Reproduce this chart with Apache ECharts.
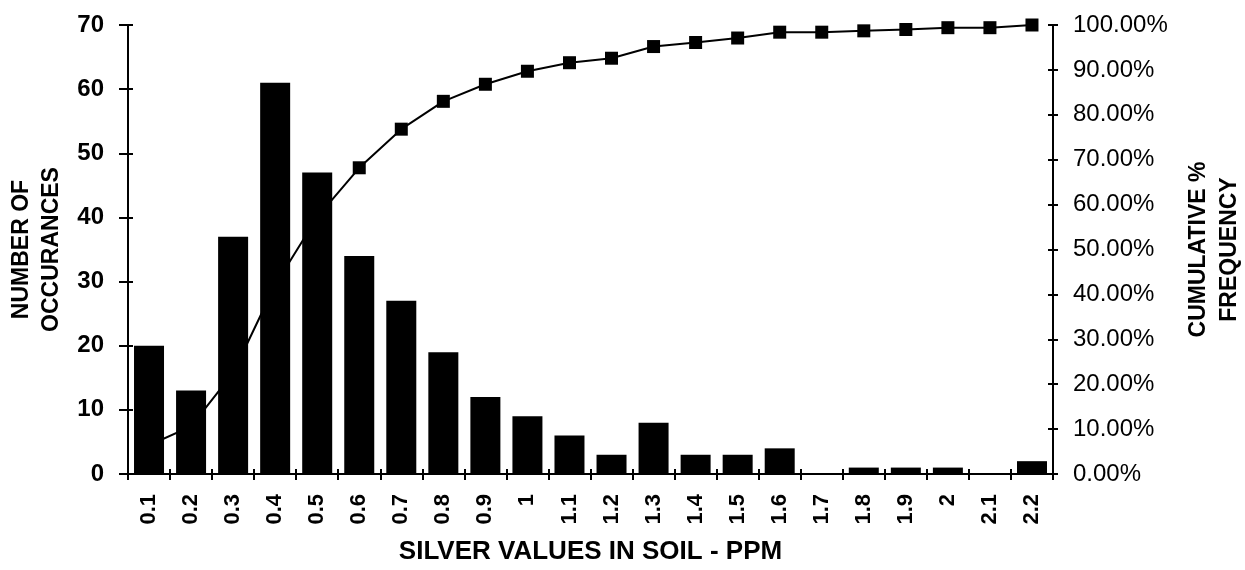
<!DOCTYPE html>
<html>
<head>
<meta charset="utf-8">
<script src="https://cdn.jsdelivr.net/npm/echarts@6/dist/echarts.min.js"></script>
<style>
html,body{margin:0;padding:0;background:#fff;}
#chart{width:1245px;height:570px;}
</style>
</head>
<body>
<div id="chart"></div>
<script>
var categories = ['0.1','0.2','0.3','0.4','0.5','0.6','0.7','0.8','0.9','1','1.1','1.2','1.3','1.4','1.5','1.6','1.7','1.8','1.9','2','2.1','2.2'];
var occurrences = [20,13,37,61,47,34,27,19,12,9,6,3,8,3,3,4,0,1,1,1,0,2];
var cumulativePct = [6.4,10.6,22.5,42.1,57.2,68.2,76.8,83.0,86.8,89.7,91.6,92.6,95.2,96.1,97.1,98.4,98.4,98.7,99.0,99.4,99.4,100];
var leftTicks = {min:0, max:70, interval:10};
var rightTicks = {min:0, max:100, interval:10};

var FONT = '"Liberation Sans", Arial, Helvetica, sans-serif';
var chart = echarts.init(document.getElementById('chart'), null, {renderer:'canvas'});
var axisLine = {show:true, lineStyle:{color:'#000', width:2}};
var option = {
  animation:false,
  backgroundColor:'#fff',
  grid:{left:128, right:192, top:25, bottom:96, containLabel:false, outerBoundsMode:'none'},
  xAxis:[{
    type:'category', data:categories, position:'bottom', boundaryGap:true,
    axisLine:axisLine,
    axisTick:{show:true, length:6, lineStyle:{color:'#000', width:2}},
    axisLabel:{rotate:90, margin:20, color:'#000', fontFamily:FONT, fontWeight:'bold', fontSize:22, interval:0},
    splitLine:{show:false},
    name:'SILVER VALUES IN SOIL - PPM', nameLocation:'middle', nameGap:65,
    nameTextStyle:{color:'#000', fontFamily:FONT, fontWeight:'bold', fontSize:26}
  },{
    type:'category', data:categories, position:'bottom', boundaryGap:true,
    axisLine:{show:false},
    axisTick:{show:true, inside:true, length:5, lineStyle:{color:'#000', width:2}},
    axisLabel:{show:false}, splitLine:{show:false}
  }],
  yAxis:[{
    type:'value', position:'left', min:leftTicks.min, max:leftTicks.max, interval:leftTicks.interval,
    axisLine:axisLine,
    axisTick:{show:true, length:9, lineStyle:{color:'#000', width:2}},
    axisLabel:{margin:24, color:'#000', fontFamily:FONT, fontWeight:'bold', fontSize:24},
    splitLine:{show:false},
    name:'NUMBER OF\nOCCURANCES', nameLocation:'middle', nameGap:61,
    nameTextStyle:{color:'#000', fontFamily:FONT, fontWeight:'bold', fontSize:23, lineHeight:30}
  },{
    type:'value', position:'right', min:rightTicks.min, max:rightTicks.max, interval:rightTicks.interval,
    axisLine:axisLine,
    axisTick:{show:true, length:5, lineStyle:{color:'#000', width:2}},
    axisLabel:{margin:20, color:'#000', fontFamily:FONT, fontSize:24,
      formatter:function(v){return v.toFixed(2)+'%';}},
    splitLine:{show:false},
    name:'CUMULATIVE %\nFREQUENCY', nameLocation:'middle', nameGap:130,
    nameTextStyle:{color:'#000', fontFamily:FONT, fontWeight:'bold', fontSize:23, lineHeight:31}
  },{
    type:'value', position:'left', min:leftTicks.min, max:leftTicks.max, interval:leftTicks.interval,
    axisLine:{show:false},
    axisTick:{show:true, inside:true, length:5, lineStyle:{color:'#000', width:2}},
    axisLabel:{show:false}, splitLine:{show:false}
  },{
    type:'value', position:'right', min:rightTicks.min, max:rightTicks.max, interval:rightTicks.interval,
    axisLine:{show:false},
    axisTick:{show:true, inside:true, length:5, lineStyle:{color:'#000', width:2}},
    axisLabel:{show:false}, splitLine:{show:false}
  }],
  series:[{
    name:'Cumulative %', type:'line', xAxisIndex:0, yAxisIndex:1, data:cumulativePct,
    z:1, symbol:'rect', symbolSize:13, showAllSymbol:true,
    lineStyle:{color:'#000', width:2}, itemStyle:{color:'#000'}
  },{
    name:'Occurrences', type:'bar', xAxisIndex:0, yAxisIndex:0, data:occurrences,
    z:3, barWidth:30, itemStyle:{color:'#000'}
  }]
};
chart.setOption(option);
</script>
</body>
</html>
